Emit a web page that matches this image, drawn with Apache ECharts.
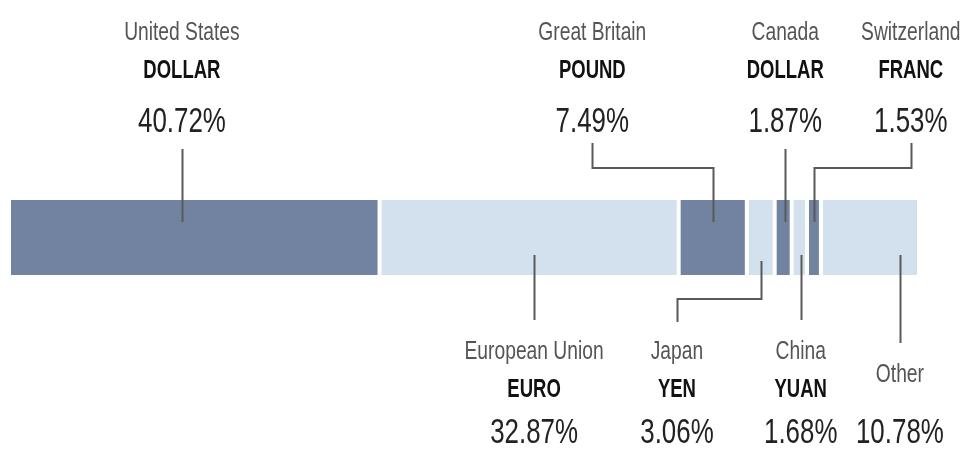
<!DOCTYPE html>
<html>
<head>
<meta charset="utf-8">
<title>Currency shares</title>
<script src="https://cdn.jsdelivr.net/npm/echarts@6/dist/echarts.min.js"></script>
<style>
  html, body { margin: 0; padding: 0; background: #fff; }
  #chart { width: 963px; height: 451px; }
</style>
</head>
<body>
<div id="chart"></div>
<script>
// Share of each currency, left to right along the bar
const regions = ['United States', 'European Union', 'Great Britain', 'Japan', 'Canada', 'China', 'Switzerland', 'Other'];
const units = ['DOLLAR', 'EURO', 'POUND', 'YEN', 'DOLLAR', 'YUAN', 'FRANC', ''];
const shares = [40.72, 32.87, 7.49, 3.06, 1.87, 1.68, 1.53, 10.78];

const DARK = '#7183a1';
const LIGHT = '#d3e1ee';
const FONT = '"Liberation Sans", Arial, sans-serif';
const SQUEEZE = 0.74; // condensed look

// Where each callout sits (in axis units) and which side of the bar
const callouts = [
    { side: 'top', at: 19.0 },
    { side: 'bottom', at: 57.7 },
    { side: 'top', at: 64.1, elbow: true },
    { side: 'bottom', at: 73.4, elbow: true },
    { side: 'top', at: 85.3 },
    { side: 'bottom', at: 87.0 },
    { side: 'top', at: 99.1, elbow: true },
    { side: 'bottom', at: 97.9, tall: true }
];

const chartDom = document.getElementById('chart');
const myChart = echarts.init(chartDom);

const series = shares.map((v, i) => ({
    name: regions[i],
    type: 'bar',
    stack: 'total',
    barWidth: '100%',
    data: [v],
    itemStyle: { color: i % 2 === 0 ? DARK : LIGHT, borderColor: '#fff', borderWidth: 2 },
    emphasis: { disabled: true }
}));

myChart.setOption({
    animation: false,
    grid: { left: 9, right: 44, top: 198, height: 79 },
    xAxis: { type: 'value', min: 0, max: 100, show: false },
    yAxis: { type: 'category', data: ['share'], show: false },
    series: series
});

// Build the callouts from the axis scale
const px = v => myChart.convertToPixel({ xAxisIndex: 0 }, v);
const graphics = [];
let start = 0;

function label(text, x, y, font, fill) {
    graphics.push({
        type: 'text', z: 10, x: x, y: y, scaleX: SQUEEZE,
        style: { text: text, font: font, fill: fill, align: 'center', verticalAlign: 'middle' }
    });
}

shares.forEach((v, i) => {
    const c = callouts[i];
    const segX = Math.round(px(start + v / 2)) + 0.5;
    const lx = Math.round(px(c.at)) + 0.5;
    start += v;

    let pts;
    if (c.side === 'top') {
        pts = c.elbow ? [[segX, 222], [segX, 168], [lx, 168], [lx, 143]] : [[lx, 222], [lx, 149]];
    } else if (c.elbow) {
        pts = [[segX, 261], [segX, 299], [lx, 299], [lx, 322]];
    } else {
        pts = [[lx, 255], [lx, c.tall ? 343 : 320]];
    }
    graphics.push({
        type: 'polyline', z: 10,
        shape: { points: pts },
        style: { stroke: '#595959', lineWidth: 2, fill: null }
    });

    const rows = c.side === 'top' ? [33, 71, 122] : [352, 390, 433];
    const tx = px(c.at);
    label(regions[i], tx, c.tall ? 375 : rows[0], '26px ' + FONT, '#555');
    if (units[i]) {
        label(units[i], tx, rows[1], 'bold 25px ' + FONT, '#111');
    }
    label(v.toFixed(2) + '%', tx, rows[2], '35px ' + FONT, '#222');
});

myChart.setOption({ graphic: graphics });
</script>
</body>
</html>
